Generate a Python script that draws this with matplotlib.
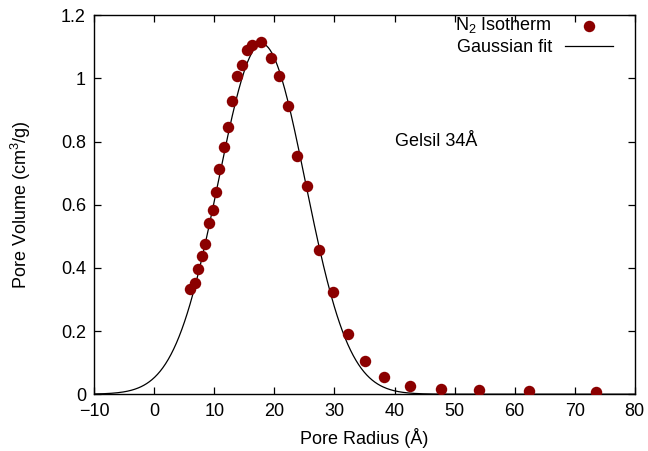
import numpy as np
import matplotlib
matplotlib.use('Agg')
from matplotlib import pyplot as plt

plt.rcParams['font.family'] = ['Liberation Sans', 'DejaVu Sans']
plt.rcParams['mathtext.fontset'] = 'custom'
plt.rcParams['mathtext.rm'] = 'Liberation Sans'

# N2 isotherm pore size distribution (radius in Angstrom, volume in cm3/g)
radius = [6.0, 6.7, 7.3, 7.9, 8.5, 9.1, 9.7, 10.3, 10.8, 11.6, 12.3, 13.0,
          13.7, 14.6, 15.4, 16.3, 17.7, 19.5, 20.8, 22.2, 23.7, 25.4, 27.4,
          29.8, 32.2, 35.1, 38.3, 42.5, 47.7, 54.1, 62.4, 73.6]
volume = [0.332, 0.351, 0.395, 0.437, 0.476, 0.542, 0.582, 0.641, 0.714,
          0.784, 0.845, 0.930, 1.007, 1.044, 1.090, 1.105, 1.115, 1.066,
          1.007, 0.912, 0.753, 0.658, 0.458, 0.323, 0.190, 0.106, 0.055,
          0.026, 0.016, 0.013, 0.010, 0.007]

# gaussian fit parameters
amp = 1.11
mu = 17.9
sigma = 7.25

xticks = [-10, 0, 10, 20, 30, 40, 50, 60, 70, 80]
yticks = [0, 0.2, 0.4, 0.6, 0.8, 1, 1.2]
ytick_labels = ['0', '0.2', '0.4', '0.6', '0.8', '1', '1.2']


def gauss(x, a, m, s):
    return a * np.exp(-(x - m) ** 2 / (2 * s ** 2))


fs = 13

fig = plt.figure(figsize=(6.48, 4.51), dpi=100)
ax = fig.add_axes([0.1455, 0.126, 0.834, 0.840])

ax.scatter(radius, volume, s=68, color='#8b0000', zorder=3,
           label=r'N$_2$ Isotherm', linewidths=0)
xf = np.linspace(-10, 80, 600)
ax.plot(xf, gauss(xf, amp, mu, sigma), color='black', lw=0.9,
        label='Gaussian fit', zorder=2)

ax.set_xlim(-10, 80)
ax.set_ylim(0, 1.2)
ax.set_xticks(xticks)
ax.set_yticks(yticks)
ax.set_yticklabels(ytick_labels)
ax.set_xticklabels([str(t).replace('-', '\u2212') for t in xticks])
ax.tick_params(direction='in', length=5, width=0.9, top=True, right=True,
               labelsize=fs, colors='black', pad=6)
for sp in ax.spines.values():
    sp.set_linewidth(1.0)

ax.set_xlabel('Pore Radius (\u00c5)', fontsize=fs, labelpad=6)
ax.set_ylabel(r'Pore Volume (cm$^3$/g)', fontsize=fs, labelpad=20)

ax.text(40.1, 0.80, 'Gelsil 34\u00c5', fontsize=fs, va='center')

ax.legend(loc='upper right', frameon=False, markerfirst=False, fontsize=fs,
          handlelength=2.65, borderaxespad=0, borderpad=0, labelspacing=0.2,
          handletextpad=0.7, bbox_to_anchor=(0.959, 1.0))

fig.savefig('out.png', dpi=100)
